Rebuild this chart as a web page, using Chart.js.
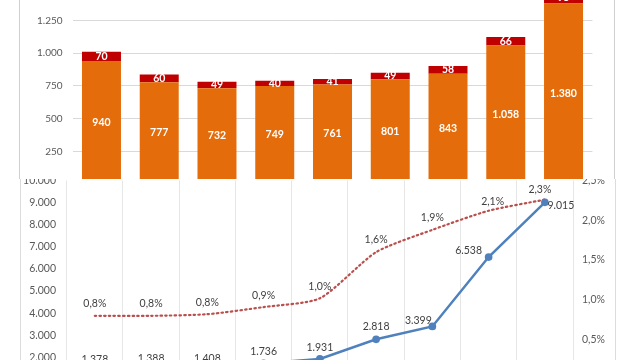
<!DOCTYPE html>
<html>
<head>
<meta charset="utf-8">
<script src="https://cdn.jsdelivr.net/npm/chart.js@4.4.0/dist/chart.umd.min.js"></script>
<style>
  html, body { margin:0; padding:0; background:#fff; }
  body { width:633px; height:360px; position:relative; overflow:hidden; }
  #topBox { position:absolute; left:0; top:-40px; width:633px; height:240px; }
  #topFrame { position:absolute; left:19px; top:-10px; width:594px; height:200px; border-left:1px solid #d0d0d0; border-right:1px solid #d0d0d0; }
  #botBox { position:absolute; left:0; top:179px; width:633px; height:181px; overflow:hidden; background:#fff; }
  #botFrame { position:absolute; left:20px; top:0; width:594px; height:200px; border-left:1px solid #dcdcdc; border-right:1px solid #dcdcdc; }
  #botInner { position:absolute; left:0; top:-20px; width:633px; height:260px; }
</style>
</head>
<body>
<div id="topFrame"></div>
<div id="topBox"><canvas id="topChart"></canvas></div>
<div id="botBox">
  <div id="botFrame"></div>
  <div id="botInner"><canvas id="botChart"></canvas></div>
</div>
<script>
// ---- data ----
const categories = ['1','2','3','4','5','6','7','8','9'];
const barBase   = [940, 777, 732, 749, 761, 801, 843, 1058, 1380];
const barTop    = [70, 60, 49, 40, 41, 49, 58, 66, 95];
const lineValues = [1378, 1388, 1408, 1736, 1931, 2818, 3399, 6538, 9015];
const pctValues  = [0.80, 0.80, 0.82, 0.91, 1.02, 1.60, 1.88, 2.12, 2.26];
const pctLabels  = ['0,8%','0,8%','0,8%','0,9%','1,0%','1,6%','1,9%','2,1%','2,3%'];
const barTicks  = [0, 250, 500, 750, 1000, 1250, 1500];

const fmt = v => Math.round(v).toString().replace(/\B(?=(\d{3})+(?!\d))/g, '.');
const FONT = 'Lato, "Liberation Sans", sans-serif';

// label offsets for line points (dx, dy)
const lineOff = [[0,-12],[0,-12],[0,-12],[0,-12],[0,-11],[0,-13],[-14,-6],[-20,-6],[16,3]];
const pctOff  = [[0,-12],[0,-12],[0,-12],[0,-11],[0,-12],[0,-13],[0,-12],[4,-9],[-5,-10]];

const labelPlugin = {
  id: 'valLabels',
  afterDatasetsDraw(chart) {
    const ctx = chart.ctx;
    chart.data.datasets.forEach((ds, di) => {
      const meta = chart.getDatasetMeta(di);
      const cfg = ds._lbl;
      if (!cfg) return;
      ctx.save();
      ctx.font = cfg.font;
      ctx.fillStyle = cfg.color;
      ctx.textAlign = 'center';
      ctx.textBaseline = 'middle';
      meta.data.forEach((el, i) => {
        let x, y;
        if (cfg.type === 'bar') {
          x = el.x; y = (el.y + el.base) / 2;
        } else {
          x = el.x + cfg.off[i][0]; y = el.y + cfg.off[i][1];
        }
        ctx.fillText(cfg.text(i), x, y);
      });
      ctx.restore();
    });
  }
};

// ---- top chart ----
new Chart(document.getElementById('topChart'), {
  type: 'bar',
  data: {
    labels: categories,
    datasets: [
      { data: barBase, backgroundColor: '#E46C0A', barPercentage: 0.675, categoryPercentage: 1,
        _lbl: { type:'bar', font:'bold 10.5px ' + FONT, color:'#ffffff', text: i => fmt(barBase[i]) } },
      { data: barTop, backgroundColor: '#C00000', barPercentage: 0.675, categoryPercentage: 1,
        _lbl: { type:'bar', font:'bold 10.5px ' + FONT, color:'#ffffff', text: i => fmt(barTop[i]) } }
    ]
  },
  options: {
    responsive: true, maintainAspectRatio: false, animation: false,
    layout: { padding: { top: 27.7, bottom: 12.5, left: 0, right: 40.6 } },
    plugins: { legend: { display: false }, tooltip: { enabled: false } },
    scales: {
      x: { stacked: true, display: false },
      y: {
        stacked: true, min: 0, max: 1500,
        afterFit: s => { s.width = 72.6; },
        afterBuildTicks: s => { s.ticks = barTicks.map(v => ({ value: v })); },
        ticks: { padding: 10, color: '#595959', font: { family: FONT, size: 10 },
                 callback: v => v === 0 ? '' : fmt(v) },
        grid: { color: '#d9d9d9', drawTicks: false },
        border: { display: false }
      }
    }
  },
  plugins: [labelPlugin]
});

// ---- bottom chart ----
new Chart(document.getElementById('botChart'), {
  type: 'line',
  data: {
    labels: categories,
    datasets: [
      { data: lineValues, yAxisID: 'y', borderColor: '#4F81BD', backgroundColor: '#4F81BD',
        borderWidth: 2.5, pointRadius: 2.6, pointStyle: 'circle', tension: 0,
        _lbl: { type:'line', font:'10.5px ' + FONT, color:'#404040', off: lineOff, text: i => fmt(lineValues[i]) } },
      { data: pctValues, yAxisID: 'y1', borderColor: '#B9504D', borderWidth: 2.2,
        borderDash: [1.5, 3.2], borderCapStyle: 'round', pointRadius: 0, tension: 0.22,
        _lbl: { type:'line', font:'10.5px ' + FONT, color:'#404040', off: pctOff, text: i => pctLabels[i] } }
    ]
  },
  options: {
    responsive: true, maintainAspectRatio: false, animation: false,
    layout: { padding: { top: 21.5, bottom: 39.5, left: 0, right: 0 } },
    plugins: { legend: { display: false }, tooltip: { enabled: false } },
    scales: {
      x: { display: true, offset: true,
           afterFit: s => { s.height = 0; },
           ticks: { display: false },
           grid: { offset: true, color: '#e6e6e6', drawTicks: false },
           border: { display: false } },
      y: { position: 'left', min: 1000, max: 10000,
           afterFit: s => { s.width = 66.7; },
           ticks: { stepSize: 1000, padding: 10.7, color: '#595959', font: { family: FONT, size: 10.5 },
                    callback: v => fmt(v) },
           grid: { display: false, drawTicks: false },
           border: { display: false } },
      y1: { position: 'right', min: 0, max: 2.5,
            afterFit: s => { s.width = 60; },
            ticks: { stepSize: 0.5, padding: 9, color: '#595959', font: { family: FONT, size: 10.5 },
                     callback: v => v === 0 ? '' : v.toFixed(1).replace('.', ',') + '%' },
            grid: { display: false, drawTicks: false },
            border: { display: false } }
    }
  },
  plugins: [labelPlugin]
});
</script>
</body>
</html>
